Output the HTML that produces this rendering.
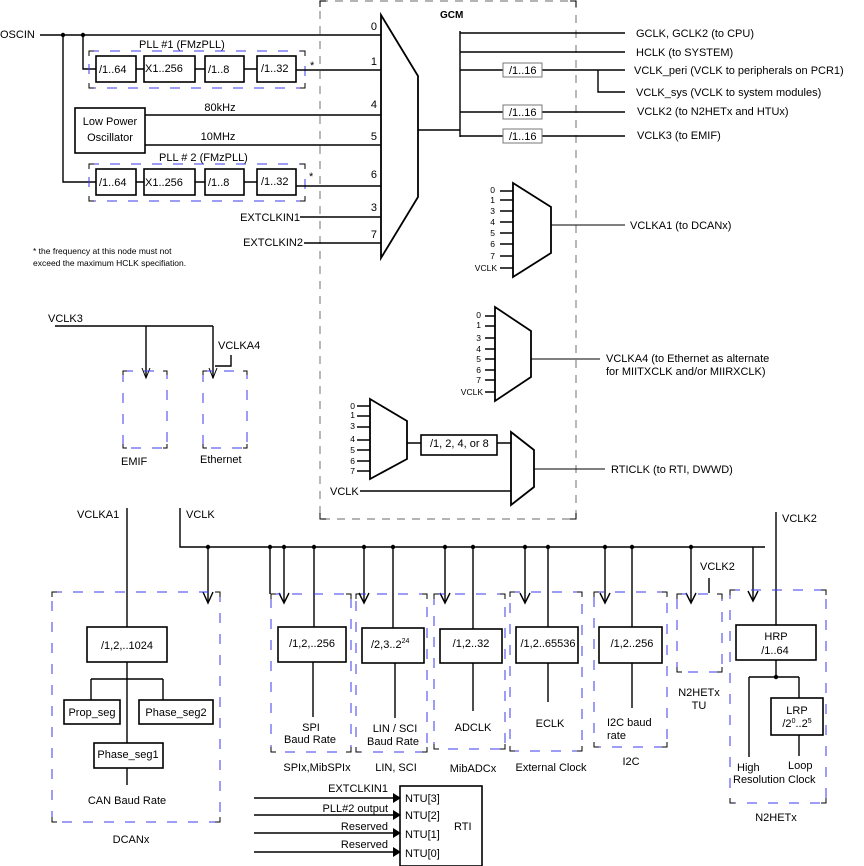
<!DOCTYPE html>
<html><head><meta charset="utf-8"><style>
html,body{margin:0;padding:0;background:#fff;}
svg{display:block;font-family:"Liberation Sans",Arial,sans-serif;}
text{fill:#000;font-size:11px;}
.s{font-size:8.5px;}
.b{stroke:#000;stroke-width:1.4;fill:none;}
.t{stroke:#000;stroke-width:1;fill:none;}
.bx{stroke:#000;stroke-width:1.6;fill:#fff;}
.gb{stroke:#777;stroke-width:1;fill:#fff;}
.bl{stroke:#3b3bf0;stroke-width:1;fill:none;stroke-dasharray:10,11;}
.gd{stroke:#888;stroke-width:1.2;fill:none;stroke-dasharray:8,7;}
.mx{stroke:#000;stroke-width:1.8;fill:#fff;}
</style></head><body>
<svg width="864" height="866" viewBox="0 0 864 866" xmlns="http://www.w3.org/2000/svg">
<rect x="320" y="1" width="256" height="518" class="gd"/>
<path d="M320,7 V1 H326 M570,1 H576 V7 M320,513 V519 H326 M570,519 H576 V513" class="t"/>
<text x="440" y="18" style="font-weight:bold;font-size:10px">GCM</text>

<text x="0" y="38">OSCIN</text>
<path d="M40,35 H381 M63,35 V182 H96 M83,35 V69 H96" class="b"/>
<circle cx="63" cy="35" r="2.2"/><circle cx="83" cy="35" r="2.2"/>
<rect x="89" y="51" width="216" height="37" class="bl"/>
<path d="M89,56 V51 H94 M300,51 H305 V56 M89,83 V88 H94 M300,88 H305 V83" class="t"/>
<text x="139" y="48">PLL #1 (FMzPLL)</text>
<path d="M136,69 H144 M195,69 H205 M244,69 H257 M296,70 H381" class="b"/>
<rect x="96" y="56" width="40" height="26" class="bx"/><text x="99" y="73">/1..64</text>
<rect x="144" y="56" width="51" height="26" class="bx"/><text x="145" y="72">X1..256</text>
<rect x="205" y="56" width="39" height="26" class="bx"/><text x="208" y="73">/1..8</text>
<rect x="257" y="56" width="39" height="26" class="bx"/><text x="261" y="72">/1..32</text>
<text x="310" y="69">*</text>
<rect x="75" y="108" width="70" height="45" class="bx"/>
<text x="110" y="125" text-anchor="middle">Low Power</text>
<text x="110" y="141" text-anchor="middle">Oscillator</text>
<path d="M145,115 H381 M145,145 H381" class="b"/>
<text x="220" y="111" text-anchor="middle">80kHz</text>
<text x="218" y="140" text-anchor="middle">10MHz</text>
<rect x="89" y="164" width="216" height="37" class="bl"/>
<path d="M89,169 V164 H94 M300,164 H305 V169 M89,196 V201 H94 M300,201 H305 V196" class="t"/>
<text x="159" y="161">PLL # 2  (FMzPLL)</text>
<path d="M136,182 H144 M195,182 H205 M244,182 H257 M296,186 H381" class="b"/>
<rect x="96" y="169" width="40" height="26" class="bx"/><text x="99" y="186">/1..64</text>
<rect x="144" y="169" width="51" height="26" class="bx"/><text x="145" y="186">X1..256</text>
<rect x="205" y="169" width="39" height="26" class="bx"/><text x="208" y="186">/1..8</text>
<rect x="257" y="169" width="39" height="26" class="bx"/><text x="261" y="185">/1..32</text>
<text x="309" y="180">*</text>
<text x="300" y="221" text-anchor="end">EXTCLKIN1</text>
<text x="303" y="246" text-anchor="end">EXTCLKIN2</text>
<path d="M300,217 H381 M304,243 H381" class="b"/>
<g text-anchor="end"><text x="377" y="30">0</text><text x="377" y="65">1</text><text x="377" y="108">4</text><text x="377" y="140">5</text><text x="377" y="178">6</text><text x="377" y="211">3</text><text x="377" y="238">7</text></g>
<text x="33" y="254" style="font-size:8.5px">* the frequency at this node must not</text>
<text x="33" y="266" style="font-size:8.5px">exceed the maximum HCLK specifiation.</text>
<polygon points="381,15 418,76 418,197 381,258" class="mx"/>

<path d="M418,130 H460 M460,31 V137 M460,33 H625 M460,52 H625 M460,70 H503 M542,70 H625 M598,70 V92 H625 M460,112 H503 M542,112 H625 M460,136 H503 M542,136 H625" class="b"/>
<rect x="503" y="63" width="39" height="14" class="gb"/><text x="509" y="74">/1..16</text>
<rect x="503" y="105" width="39" height="14" class="gb"/><text x="509" y="116">/1..16</text>
<rect x="503" y="129" width="39" height="14" class="gb"/><text x="509" y="140">/1..16</text>
<text x="636" y="37">GCLK, GCLK2 (to CPU)</text>
<text x="636" y="56">HCLK (to SYSTEM)</text>
<text x="634" y="74">VCLK_peri (VCLK to peripherals on PCR1)</text>
<text x="636" y="96">VCLK_sys  (VCLK to system modules)</text>
<text x="637" y="115">VCLK2 (to N2HETx  and HTUx)</text>
<text x="637" y="139">VCLK3 (to EMIF)</text>

<path d="M500,191 H513 M500,200 H513 M500,211 H513 M500,222 H513 M500,233 H513 M500,244 H513 M500,256 H513 M500,268 H513" class="b"/>
<g text-anchor="end"><text x="495" y="193" class="s">0</text><text x="495" y="203" class="s">1</text><text x="495" y="214" class="s">3</text><text x="495" y="225" class="s">4</text><text x="495" y="236" class="s">5</text><text x="495" y="247" class="s">6</text><text x="495" y="259" class="s">7</text><text x="497" y="271" class="s">VCLK</text></g>
<polygon points="513,183 551,207 551,253 513,277" class="mx"/>
<path d="M551,225 H625" class="t"/>
<text x="630" y="229">VCLKA1 (to DCANx)</text>

<path d="M485,316 H495 M485,326 H495 M485,338 H495 M485,349 H495 M485,359 H495 M485,370 H495 M485,380 H495 M485,392 H495" class="b"/>
<g text-anchor="end"><text x="481" y="318" class="s">0</text><text x="481" y="328" class="s">1</text><text x="481" y="341" class="s">3</text><text x="481" y="352" class="s">4</text><text x="481" y="362" class="s">5</text><text x="481" y="373" class="s">6</text><text x="481" y="383" class="s">7</text><text x="483" y="395" class="s">VCLK</text></g>
<polygon points="495,307 531,331 531,377 495,401" class="mx"/>
<path d="M531,359 H600" class="t"/>
<text x="606" y="362">VCLKA4 (to Ethernet as alternate</text>
<text x="606" y="375">for MIITXCLK and/or MIIRXCLK)</text>

<path d="M357,406 H370 M357,416 H370 M357,427 H370 M357,440 H370 M357,450 H370 M357,461 H370 M357,471 H370" class="b"/>
<g text-anchor="end"><text x="355" y="409" class="s">0</text><text x="355" y="418" class="s">1</text><text x="355" y="429" class="s">3</text><text x="355" y="442" class="s">4</text><text x="355" y="453" class="s">5</text><text x="355" y="464" class="s">6</text><text x="355" y="474" class="s">7</text></g>
<polygon points="370,399 407,421 407,459 370,479" class="mx"/>
<path d="M407,443 H421 M497,443 H511 M360,491 H511" class="b"/>
<rect x="421" y="435" width="76" height="20" class="bx"/>
<text x="430" y="447">/1, 2, 4, or 8</text>
<polygon points="511,432 534,450 534,487 511,505" class="mx"/>
<path d="M534,469 H605" class="t"/>
<text x="611" y="473">RTICLK (to RTI, DWWD)</text>
<text x="330" y="495">VCLK</text>

<text x="48" y="322">VCLK3</text>
<path d="M55,326 H213 M146,326 V377 M213,326 V378 M231,355 V366 H215" class="b"/>
<path d="M142,368 L146,378 L150,368 M209,368 L213,378 L217,368" class="t"/>
<text x="218" y="349">VCLKA4</text>
<rect x="123" y="371" width="44" height="77" class="bl"/>
<path d="M123,375 V371 H127 M163,371 H167 V375 M123,444 V448 H127 M163,448 H167 V444" class="t"/>
<rect x="203" y="371" width="44" height="77" class="bl"/>
<path d="M203,375 V371 H207 M243,371 H247 V375 M203,444 V448 H207 M243,448 H247 V444" class="t"/>
<text x="121" y="465">EMIF</text>
<text x="200" y="463">Ethernet</text>

<text x="77" y="518">VCLKA1</text>
<text x="186" y="518">VCLK</text>
<text x="782" y="522">VCLK2</text>
<text x="700" y="570">VCLK2</text>
<path d="M127,508 V627 M180,508 V547 H765 M776,512 V625 M709,578 V593" class="b"/>
<g fill="#000">
<circle cx="208" cy="547" r="2.2"/><circle cx="270" cy="547" r="2.2"/><circle cx="284" cy="547" r="2.2"/><circle cx="314" cy="547" r="2.2"/><circle cx="364" cy="547" r="2.2"/><circle cx="393" cy="547" r="2.2"/><circle cx="445" cy="547" r="2.2"/><circle cx="473" cy="547" r="2.2"/><circle cx="525" cy="547" r="2.2"/><circle cx="548" cy="547" r="2.2"/><circle cx="605" cy="547" r="2.2"/><circle cx="632" cy="547" r="2.2"/><circle cx="691" cy="547" r="2.2"/><circle cx="776" cy="677" r="2.2"/></g>
<path d="M208,547 V602 M270,547 V594 M284,547 V602 M314,547 V627 M364,547 V602 M393,547 V628 M445,547 V602 M473,547 V629 M525,547 V602 M548,547 V627 M605,547 V602 M632,547 V627 M691,547 V602 M753,547 V600" class="b"/>
<path d="M203,592 L208,603 L213,592 M279,593 L284,603 L289,593 M359,593 L364,603 L369,593 M440,593 L445,603 L450,593 M520,593 L525,603 L530,593 M600,593 L605,603 L610,593 M686,593 L691,603 L696,593 M748,591 L753,601 L758,591" class="b"/>

<g>
<rect x="52" y="592" width="168" height="230" class="bl"/>
<path d="M52,597 V592 H57 M215,592 H220 V597 M52,817 V822 H57 M215,822 H220 V817" class="t"/>
<rect x="271" y="594" width="80" height="158" class="bl"/>
<path d="M271,599 V594 H276 M346,594 H351 V599 M271,747 V752 H276 M346,752 H351 V747" class="t"/>
<rect x="356" y="594" width="71" height="158" class="bl"/>
<path d="M356,599 V594 H361 M422,594 H427 V599 M356,747 V752 H361 M422,752 H427 V747" class="t"/>
<rect x="434" y="594" width="71" height="155" class="bl"/>
<path d="M434,599 V594 H439 M500,594 H505 V599 M434,744 V749 H439 M500,749 H505 V744" class="t"/>
<rect x="510" y="592" width="72" height="159" class="bl"/>
<path d="M510,597 V592 H515 M577,592 H582 V597 M510,746 V751 H515 M577,751 H582 V746" class="t"/>
<rect x="594" y="592" width="73" height="155" class="bl"/>
<path d="M594,597 V592 H599 M662,592 H667 V597 M594,742 V747 H599 M662,747 H667 V742" class="t"/>
<rect x="677" y="594" width="45" height="78" class="bl"/>
<path d="M677,599 V594 H682 M717,594 H722 V599 M677,667 V672 H682 M717,672 H722 V667" class="t"/>
<rect x="730" y="590" width="96" height="213" class="bl"/>
<path d="M730,595 V590 H735 M821,590 H826 V595 M730,798 V803 H735 M821,803 H826 V798" class="t"/>
</g>

<path d="M127,662 V743 M127,768 V785 M91,679 H163 M91,679 V700 M163,679 V700" class="b"/>
<rect x="87" y="627" width="80" height="35" class="bx"/><text x="127" y="649" text-anchor="middle">/1,2,..1024</text>
<rect x="64" y="700" width="56" height="24" class="bx"/><text x="92" y="716" text-anchor="middle">Prop_seg</text>
<rect x="139" y="700" width="74" height="24" class="bx"/><text x="176" y="716" text-anchor="middle">Phase_seg2</text>
<rect x="94" y="743" width="69" height="25" class="bx"/><text x="128" y="758" text-anchor="middle">Phase_seg1</text>
<text x="127" y="804" text-anchor="middle">CAN Baud Rate</text>
<text x="131" y="843" text-anchor="middle">DCANx</text>

<path d="M313,662 V717 M395,663 V718 M473,663 V711 M548,663 V702 M632,663 V708" class="b"/>
<rect x="278" y="627" width="68" height="35" class="bx"/><text x="312" y="647" text-anchor="middle">/1,2,..256</text>
<text x="311" y="731" text-anchor="middle">SPI</text><text x="310" y="743" text-anchor="middle">Baud Rate</text>
<text x="317" y="771" text-anchor="middle">SPIx,MibSPIx</text>
<rect x="362" y="628" width="62" height="35" class="bx"/><text x="371" y="648">/2,3..2<tspan dy="-5" style="font-size:7px">24</tspan></text>
<text x="395" y="732" text-anchor="middle">LIN / SCI</text><text x="393" y="745" text-anchor="middle">Baud Rate</text>
<text x="396" y="771" text-anchor="middle">LIN, SCI</text>
<rect x="440" y="629" width="62" height="34" class="bx"/><text x="471" y="647" text-anchor="middle">/1,2..32</text>
<text x="473" y="731" text-anchor="middle">ADCLK</text>
<text x="473" y="772" text-anchor="middle">MibADCx</text>
<rect x="516" y="627" width="62" height="36" class="bx"/><text x="548" y="647" text-anchor="middle">/1,2..65536</text>
<text x="550" y="727" text-anchor="middle">ECLK</text>
<text x="551" y="771" text-anchor="middle">External Clock</text>
<rect x="599" y="627" width="63" height="36" class="bx"/><text x="632" y="647" text-anchor="middle">/1,2..256</text>
<text x="607" y="726">I2C baud</text><text x="607" y="739">rate</text>
<text x="631" y="765" text-anchor="middle">I2C</text>
<text x="699" y="696" text-anchor="middle">N2HETx</text><text x="699" y="709" text-anchor="middle">TU</text>

<rect x="736" y="625" width="80" height="35" class="bx"/>
<text x="776" y="640" text-anchor="middle">HRP</text><text x="775" y="654" text-anchor="middle">/1..64</text>
<path d="M776,660 V677 M749,677 H799 M749,677 V757 M799,677 V698 M799,735 V756" class="b"/>
<rect x="771" y="698" width="52" height="37" class="bx"/>
<text x="797" y="714" text-anchor="middle">LRP</text>
<text x="797" y="727" text-anchor="middle">/2<tspan dy="-4" style="font-size:7px">0</tspan><tspan dy="4">..2</tspan><tspan dy="-4" style="font-size:7px">5</tspan></text>
<text x="737" y="771">High</text><text x="788" y="769">Loop</text>
<text x="733" y="783">Resolution Clock</text>
<text x="776" y="821" text-anchor="middle">N2HETx</text>

<rect x="400" y="786" width="82" height="80" class="bx"/>
<path d="M254,798 H394 M254,815 H394 M254,833 H394 M254,852 H394" class="b"/>
<path d="M393,793 L401,798 L393,803Z M393,810 L401,815 L393,820Z M393,828 L401,833 L393,838Z M393,847 L401,852 L393,857Z" fill="#000"/>
<g text-anchor="end"><text x="388" y="792">EXTCLKIN1</text><text x="388" y="812">PLL#2 output</text><text x="388" y="830">Reserved</text><text x="388" y="848">Reserved</text></g>
<text x="405" y="802">NTU[3]</text><text x="405" y="819">NTU[2]</text><text x="405" y="838">NTU[1]</text><text x="405" y="857">NTU[0]</text>
<text x="454" y="830">RTI</text>
</svg>
</body></html>
